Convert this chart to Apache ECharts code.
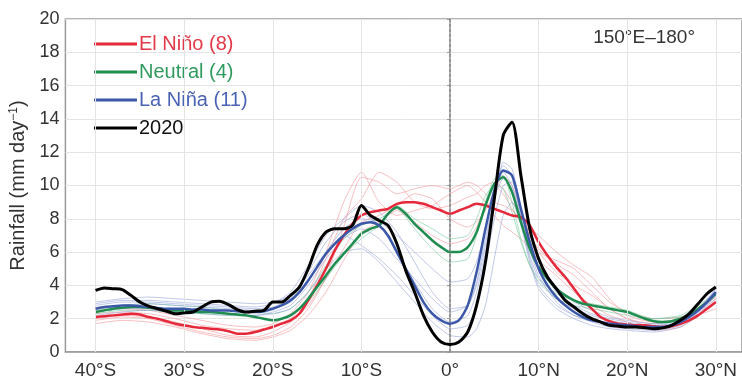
<!DOCTYPE html>
<html><head><meta charset="utf-8">
<script src="https://cdn.jsdelivr.net/npm/echarts@6/dist/echarts.min.js"></script>
<style>html,body{margin:0;padding:0;background:#fff}#c{width:742px;height:390px}</style>
</head><body><div id="c"></div>
<script>
// ---- data ----
const lats = [-40,-39,-38,-37,-36,-35,-34,-33,-32,-31,-30,-29,-28,-27,-26,-25,-24,-23,-22,-21,-20,-19,-18,-17,-16,-15,-14,-13,-12,-11,-10,-9,-8,-7,-6,-5,-4,-3,-2,-1,0,1,2,3,4,5,6,7,8,9,10,11,12,13,14,15,16,17,18,19,20,21,22,23,24,25,26,27,28,29,30];
const elNinoMean = [2.1,2.15,2.2,2.25,2.3,2.25,2.1,2.0,1.85,1.7,1.6,1.5,1.45,1.4,1.35,1.25,1.1,1.1,1.2,1.35,1.5,1.7,1.9,2.3,3.1,4.0,5.0,6.1,7.0,7.7,8.2,8.4,8.5,8.6,8.9,9.0,9.0,8.9,8.7,8.5,8.3,8.5,8.7,8.9,8.8,8.6,8.4,8.2,8.1,7.6,6.6,5.8,5.1,4.5,3.8,3.1,2.6,2.1,1.85,1.7,1.65,1.6,1.6,1.55,1.5,1.55,1.7,1.9,2.2,2.6,3.0];
const neutralMean = [2.4,2.5,2.6,2.65,2.7,2.7,2.65,2.6,2.55,2.5,2.5,2.45,2.4,2.4,2.35,2.3,2.25,2.2,2.1,2.0,1.9,2.0,2.2,2.6,3.2,3.9,4.6,5.3,5.9,6.5,7.1,7.4,7.6,8.3,8.7,8.3,7.7,7.2,6.7,6.3,6.0,6.0,6.3,7.2,8.8,10.1,10.5,9.6,7.8,6.2,5.1,4.4,3.8,3.4,3.1,2.9,2.8,2.7,2.6,2.5,2.4,2.2,2.0,1.85,1.8,1.85,2.0,2.2,2.6,3.0,3.5];
const laNinaMean = [2.6,2.7,2.75,2.8,2.8,2.75,2.7,2.65,2.6,2.6,2.6,2.55,2.55,2.5,2.5,2.5,2.45,2.4,2.4,2.45,2.6,2.8,3.1,3.6,4.3,5.1,5.9,6.5,7.0,7.4,7.7,7.8,7.6,7.0,6.0,5.0,4.0,3.0,2.3,1.9,1.7,1.9,2.8,4.8,7.4,9.7,10.9,10.6,8.6,6.6,5.0,4.0,3.3,2.8,2.4,2.1,1.9,1.8,1.7,1.65,1.6,1.55,1.5,1.5,1.5,1.6,1.8,2.1,2.5,3.0,3.6];
const y2020 = [3.7,3.85,3.8,3.75,3.4,3.0,2.75,2.6,2.45,2.3,2.35,2.4,2.7,3.0,3.05,2.85,2.55,2.4,2.45,2.5,3.0,3.0,3.4,3.9,5.0,6.4,7.2,7.4,7.4,7.6,8.8,8.2,7.9,7.6,6.5,4.9,3.6,2.2,1.2,0.6,0.45,0.6,1.2,2.8,5.4,9.2,13.0,13.8,10.6,7.4,5.6,4.5,3.8,3.1,2.7,2.3,2.0,1.8,1.6,1.55,1.5,1.5,1.45,1.4,1.45,1.6,1.9,2.3,2.9,3.5,3.9];

// individual years (faint lines)
const faintLats = [-40,-37,-34,-31,-28,-25,-22,-20,-18,-16,-14,-12,-10,-8,-6,-4,-2,0,2,3,4,5,6,7,8,9,10,12,14,16,18,20,23,26,28,30];
const elNinoYears = [
  [1.9,2.1,2.0,1.6,1.2,0.9,0.8,1.0,1.5,2.6,4.5,7.5,10.5,10.2,9.5,9.8,10.0,9.8,10.2,10.0,9.5,9.0,8.8,8.5,8.0,7.5,7.0,6.0,5.2,4.5,3.2,2.2,1.8,2.0,2.6,3.3],
  [2.3,2.4,2.3,2.0,1.6,1.4,1.3,1.6,2.0,3.2,5.6,8.0,9.2,10.8,10.2,9.0,8.6,8.8,9.3,9.5,10.0,10.2,9.8,9.0,8.2,7.2,6.0,4.8,4.0,3.4,2.6,2.0,1.5,1.7,2.2,3.0],
  [2.0,2.2,2.1,1.8,1.4,1.0,0.9,1.2,1.8,2.8,4.4,6.2,7.8,8.2,8.8,9.5,9.2,8.0,7.5,7.8,8.5,9.5,10.6,10.0,8.5,7.0,6.0,5.5,5.0,4.0,3.0,2.4,2.0,2.1,2.6,3.6],
  [2.5,2.6,2.5,2.2,1.9,1.6,1.5,1.7,2.3,3.6,6.0,9.0,10.8,9.0,8.2,8.5,8.8,9.5,10.0,9.6,9.0,8.2,7.6,7.2,6.8,6.2,5.5,4.6,3.6,2.8,2.2,1.8,1.3,1.5,2.2,2.6],
  [1.7,1.9,1.8,1.5,1.1,0.8,0.7,0.9,1.3,2.2,3.6,5.5,7.2,7.8,8.5,7.8,7.0,6.5,6.8,7.5,8.8,10.0,9.5,8.6,7.8,7.0,6.2,5.3,4.6,3.6,2.6,2.0,1.7,1.9,2.4,3.2]
];
const neutralYears = [
  [2.5,2.8,2.9,2.8,2.7,2.5,2.4,2.3,2.6,3.6,5.2,6.8,7.6,8.0,8.6,7.4,6.2,5.4,5.6,7.0,9.0,10.4,10.6,9.0,6.8,5.2,4.2,3.2,2.8,2.6,2.4,2.2,2.0,2.2,2.8,3.6],
  [2.3,2.5,2.5,2.4,2.3,2.2,2.1,1.9,2.2,3.0,4.4,5.8,6.8,7.6,8.8,8.0,7.4,6.8,7.0,8.0,9.4,10.0,9.8,8.4,6.6,5.2,4.4,3.5,3.1,2.9,2.7,2.5,2.0,2.1,2.6,3.4]
];
const laNinaYears = [
  [2.8,3.0,3.0,2.9,2.8,2.7,2.6,2.7,3.2,4.8,6.6,7.8,8.3,7.6,6.0,4.2,2.6,1.8,2.2,3.6,6.0,9.0,11.4,11.0,8.6,6.2,4.6,3.0,2.2,1.8,1.5,1.4,1.3,1.6,2.4,3.8],
  [2.4,2.6,2.6,2.5,2.4,2.3,2.2,2.4,2.8,4.0,5.6,6.8,7.4,6.8,5.6,4.4,3.2,2.4,2.8,4.2,6.8,9.2,10.4,9.8,7.8,5.8,4.4,3.2,2.6,2.2,1.9,1.7,1.6,1.8,2.4,3.4],
  [3.0,3.2,3.3,3.2,3.1,3.0,2.9,3.0,3.4,4.6,6.0,7.0,6.4,5.6,4.6,3.4,2.2,1.4,1.6,2.8,5.2,8.0,10.0,10.2,8.0,5.6,4.0,2.8,2.2,1.9,1.7,1.6,1.5,1.7,2.3,3.6],
  [2.6,2.8,2.9,2.8,2.7,2.6,2.5,2.6,3.0,4.2,6.0,7.4,8.0,7.8,7.0,6.0,5.0,4.2,4.4,5.4,7.4,9.6,10.8,10.0,8.0,6.2,5.0,3.8,3.0,2.5,2.1,1.9,1.7,1.9,2.6,3.8],
  [2.2,2.4,2.5,2.4,2.3,2.2,2.2,2.3,2.6,3.6,5.0,6.0,6.2,5.4,4.2,3.0,1.8,1.0,0.9,1.4,2.8,5.6,8.2,9.0,7.6,5.4,3.8,2.6,2.0,1.6,1.4,1.3,1.2,1.5,2.2,3.4],
  [2.9,3.1,3.1,3.0,2.9,2.8,2.7,2.9,3.6,5.2,7.0,8.0,8.8,8.4,7.2,5.4,3.6,2.6,2.8,4.0,6.4,9.4,11.2,10.6,8.2,6.4,5.2,3.6,2.8,2.3,2.0,1.8,1.6,1.7,2.2,3.2]
];

const xTicks = [-40,-30,-20,-10,0,10,20,30];
const xTickLabels = ['40°S','30°S','20°S','10°S','0°','10°N','20°N','30°N'];
const seriesNames = ['El Niño (8)','Neutral (4)','La Niña (11)','2020'];
const regionLabel = '150°E–180°';

// ---- chart ----
const FONT = '"Liberation Sans", Arial, sans-serif';
const COL = {red:'#e5283a', green:'#1f8c50', blue:'#3b57a8', black:'#000000'};
const FAINT = {red:'#f28a8f', green:'#6cc495', blue:'#8c9ad6'};
const pair = (xs, ys) => xs.map((x,i)=>[x, ys[i]]);

const series = [];
series.push({
  type:'line', data:[], silent:true, z:0,
  markLine:{silent:true, symbol:'none', label:{show:false}, animation:false,
    data: xTicks.filter(v=>v!==0).map(v=>({xAxis:v, lineStyle:{color:'#e4e4e4', width:1, type:'solid'}}))
      .concat([{xAxis:0, lineStyle:{color:'#8a8a8a', width:1.5, type:[3,2]}}])
  }
});
function addFaint(arr, color){
  arr.forEach(ys=>series.push({type:'line', data:pair(faintLats, ys), showSymbol:false, symbol:'none', silent:true, smooth:0.2,
    lineStyle:{color:color, width:1, opacity:0.55}, z:1}));
}
addFaint(elNinoYears, FAINT.red);
addFaint(neutralYears, FAINT.green);
addFaint(laNinaYears, FAINT.blue);
const means = [[elNinoMean, COL.red, 2.5],[neutralMean, COL.green, 2.5],[laNinaMean, COL.blue, 2.5],[y2020, COL.black, 3]];
means.forEach((m,i)=>series.push({name:seriesNames[i], type:'line', data:pair(lats, m[0]), symbol:'none', showSymbol:false, smooth:0.25,
  lineStyle:{color:m[1], width:m[2]}, itemStyle:{color:m[1]}, z:3+i}));

const legendColors = ['#e23a48','#2f9a5e','#4a63b4','#111111'];
const chart = echarts.init(document.getElementById('c'), null, {renderer:'canvas'});
chart.setOption({
  animation:false,
  backgroundColor:'#fff',
  textStyle:{fontFamily:FONT},
  grid:{left:60, right:-2, top:19, bottom:38, show:true, borderColor:'#9a9a9a', borderWidth:1.5, backgroundColor:'transparent'},
  legend:{orient:'vertical', left:89, top:29, itemWidth:43, itemHeight:3, itemGap:8, icon:'rect',
    data: seriesNames.map((n,i)=>({name:n, textStyle:{color:legendColors[i]}})),
    textStyle:{fontSize:20, fontFamily:FONT, padding:[0,0,0,-3]}},
  graphic:[{type:'text', right:47, top:28, style:{text:regionLabel, fontSize:19, fill:'#333', fontFamily:FONT}}],
  xAxis:{type:'value', min:-43.4, max:32.95,
    axisLine:{show:true, lineStyle:{color:'#9a9a9a', width:1.5}},
    axisTick:{show:true, customValues:xTicks, length:3, inside:true, lineStyle:{color:'#9a9a9a'}},
    axisLabel:{customValues:xTicks, fontSize:19, color:'#333', margin:9, fontFamily:FONT,
      formatter:(v)=>{const i=xTicks.indexOf(Math.round(v)); return i>=0?xTickLabels[i]:'';}},
    splitLine:{show:false}},
  yAxis:{type:'value', min:0, max:20, interval:2,
    name:'Rainfall (mm day{sup|−1})', nameLocation:'middle', nameGap:36, nameRotate:90,
    nameTextStyle:{fontSize:20, color:'#333', fontFamily:FONT, rich:{sup:{fontSize:12, verticalAlign:'top', padding:[0,0,9,0], color:'#333'}}},
    axisLine:{show:true, lineStyle:{color:'#9a9a9a', width:1.5}},
    axisTick:{show:true, length:3, lineStyle:{color:'#9a9a9a'}},
    axisLabel:{fontSize:18, color:'#333', margin:6, fontFamily:FONT},
    splitLine:{show:true, lineStyle:{color:'#e4e4e4', width:1}}},
  series: series
});
</script></body></html>
